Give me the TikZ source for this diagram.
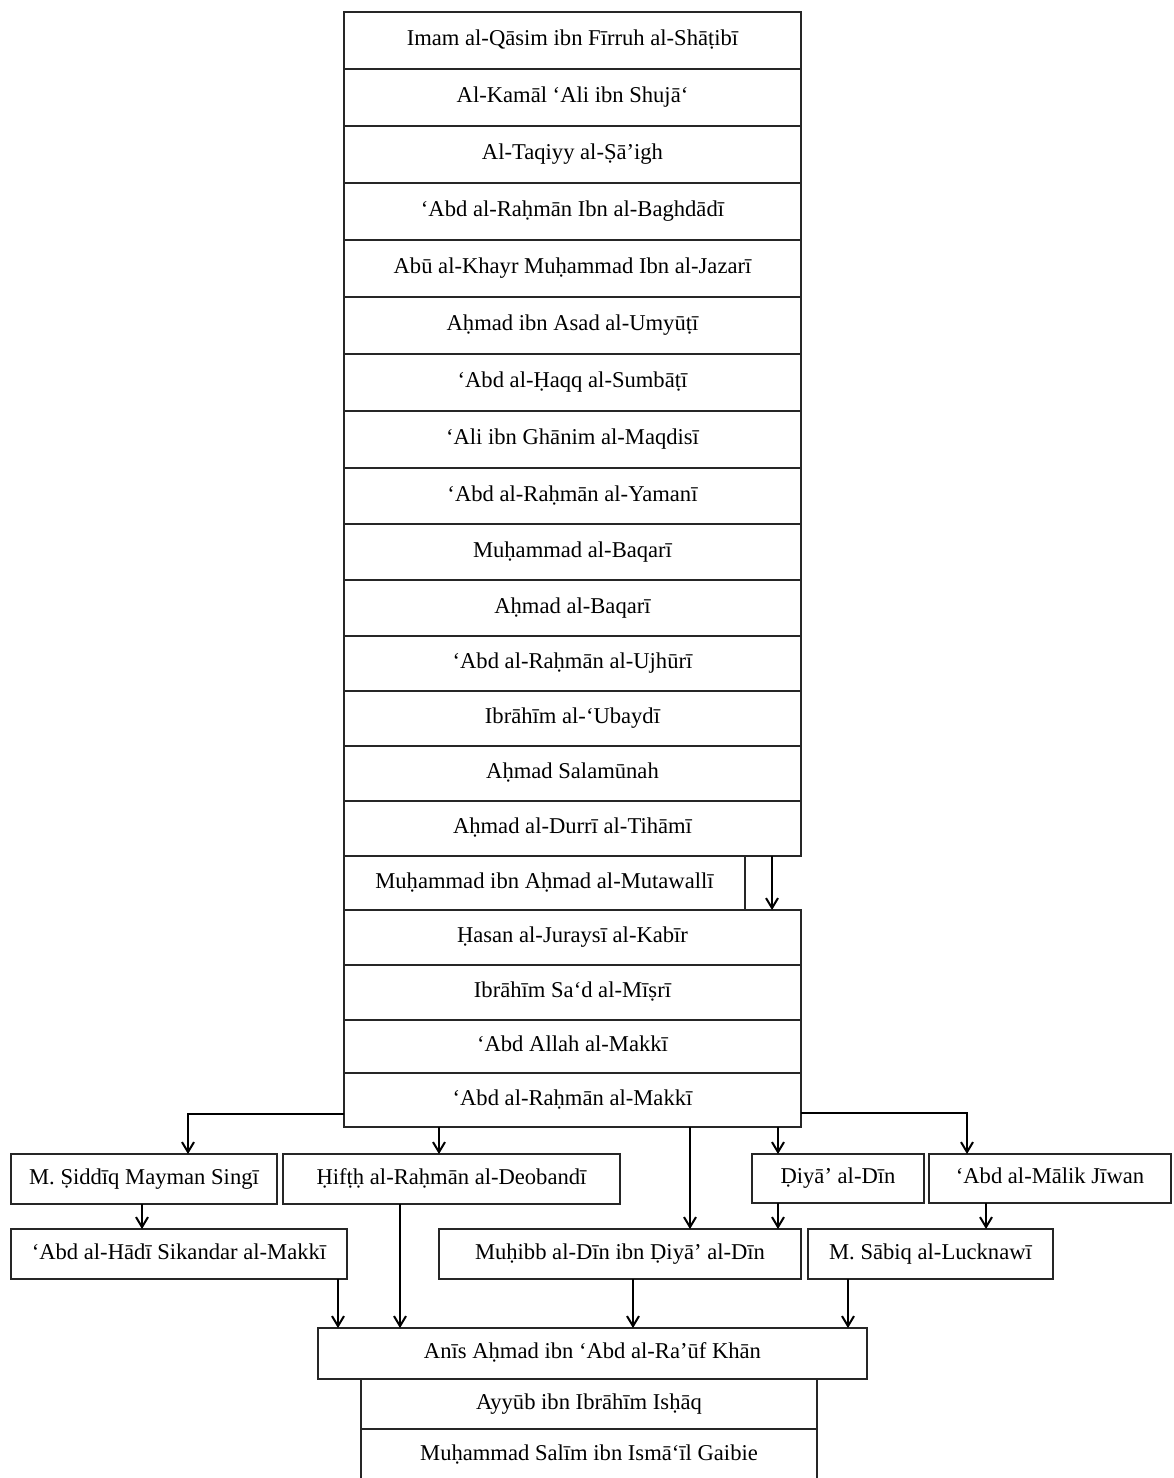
\documentclass[tikz,border=0pt]{standalone}
\usepackage{fontspec}
\setmainfont{Liberation Serif}
\usetikzlibrary{arrows.meta}
\newcommand\bx[6]{\node[boxst, minimum width={(#4-#2)*0.5pt}, minimum height={(#5-#3)*0.5pt}] (#1) at ({(#2+#4)/2},{(#3+#5)/2}) {#6};}
\begin{document}
\begin{tikzpicture}[x=0.5pt,y=-0.5pt,
  boxst/.style={draw=black!85, line width=0.6pt, rectangle, inner sep=0pt, outer sep=0pt, font=\fontsize{11.3}{13}\selectfont, text=black, text height=7.6pt, text depth=2.4pt},
  arr/.style={-{Straight Barb[length=5pt,width=6pt]}, line width=1pt, black}]
\useasboundingbox (0,0) rectangle (1173,1478);
\clip (0,0) rectangle (1173,1478);
% main column
\bx{n1}{344}{12}{801}{69}{Imam al-Qāsim ibn Fīrruh al-Shāṭibī}
\bx{n2}{344}{69}{801}{126}{Al-Kamāl ‘Ali ibn Shujā‘}
\bx{n3}{344}{126}{801}{183}{Al-Taqiyy al-Ṣā’igh}
\bx{n4}{344}{183}{801}{240}{‘Abd al-Raḥmān Ibn al-Baghdādī}
\bx{n5}{344}{240}{801}{297}{Abū al-Khayr Muḥammad Ibn al-Jazarī}
\bx{n6}{344}{297}{801}{354}{Aḥmad ibn Asad al-Umyūṭī}
\bx{n7}{344}{354}{801}{411}{‘Abd al-Ḥaqq al-Sumbāṭī}
\bx{n8}{344}{411}{801}{468}{‘Ali ibn Ghānim al-Maqdisī}
\bx{n9}{344}{468}{801}{524}{‘Abd al-Raḥmān al-Yamanī}
\bx{n10}{344}{524}{801}{580}{Muḥammad al-Baqarī}
\bx{n11}{344}{580}{801}{636}{Aḥmad al-Baqarī}
\bx{n12}{344}{636}{801}{691}{‘Abd al-Raḥmān al-Ujhūrī}
\bx{n13}{344}{691}{801}{746}{Ibrāhīm al-‘Ubaydī}
\bx{n14}{344}{746}{801}{801}{Aḥmad Salamūnah}
\bx{durri}{344}{801}{801}{856}{Aḥmad al-Durrī al-Tihāmī}
\bx{muta}{344}{856}{745}{910}{Muḥammad ibn Aḥmad al-Mutawallī}
\bx{hasan}{344}{910}{801}{965}{Ḥasan al-Juraysī al-Kabīr}
\bx{misri}{344}{965}{801}{1020}{Ibrāhīm Sa‘d al-Mīṣrī}
\bx{allah}{344}{1020}{801}{1073}{‘Abd Allah al-Makkī}
\bx{makki}{344}{1073}{801}{1127}{‘Abd al-Raḥmān al-Makkī}
% first branch row
\bx{siddiq}{11}{1154}{277}{1204}{M. Ṣiddīq Mayman Singī}
\bx{hifth}{283}{1154}{620}{1204}{Ḥifṭḥ al-Raḥmān al-Deobandī}
\bx{diya}{752}{1154}{924}{1203}{Ḍiyā’ al-Dīn}
\bx{malik}{929}{1154}{1171}{1203}{‘Abd al-Mālik Jīwan}
% second branch row
\bx{hadi}{11}{1229}{347}{1279}{‘Abd al-Hādī Sikandar al-Makkī}
\bx{muhibb}{439}{1229}{801}{1279}{Muḥibb al-Dīn ibn Ḍiyā’ al-Dīn}
\bx{sabiq}{808}{1229}{1053}{1279}{M. Sābiq al-Lucknawī}
% bottom
\bx{anis}{318}{1328}{867}{1379}{Anīs Aḥmad ibn ‘Abd al-Ra’ūf Khān}
\bx{ayyub}{361}{1379}{817}{1429}{Ayyūb ibn Ibrāhīm Isḥāq}
\bx{salim}{361}{1429}{817}{1482}{Muḥammad Salīm ibn Ismā‘īl Gaibie}
% helper coordinates
\coordinate (xa) at (772,0);
\coordinate (yl) at (0,1114);
\coordinate (yr) at (0,1113);
\coordinate (xs) at (188,0);
\coordinate (xh) at (439,0);
\coordinate (xm) at (690,0);
\coordinate (xd) at (778,0);
\coordinate (xj) at (967,0);
\coordinate (xk) at (142,0);
\coordinate (xq) at (986,0);
\coordinate (x1) at (338,0);
\coordinate (x2) at (400,0);
\coordinate (x3) at (633,0);
\coordinate (x4) at (848,0);
% connectors
\draw[arr] (durri.south -| xa) -- (hasan.north -| xa);
\draw[arr] (makki.west |- yl) -| (siddiq.north -| xs);
\draw[arr] (makki.south -| xh) -- (hifth.north -| xh);
\draw[arr] (makki.south -| xm) -- (muhibb.north -| xm);
\draw[arr] (makki.south -| xd) -- (diya.north -| xd);
\draw[arr] (makki.east |- yr) -| (malik.north -| xj);
\draw[arr] (siddiq.south -| xk) -- (hadi.north -| xk);
\draw[arr] (diya.south -| xd) -- (muhibb.north -| xd);
\draw[arr] (malik.south -| xq) -- (sabiq.north -| xq);
\draw[arr] (hadi.south -| x1) -- (anis.north -| x1);
\draw[arr] (hifth.south -| x2) -- (anis.north -| x2);
\draw[arr] (muhibb.south -| x3) -- (anis.north -| x3);
\draw[arr] (sabiq.south -| x4) -- (anis.north -| x4);
\end{tikzpicture}
\end{document}
